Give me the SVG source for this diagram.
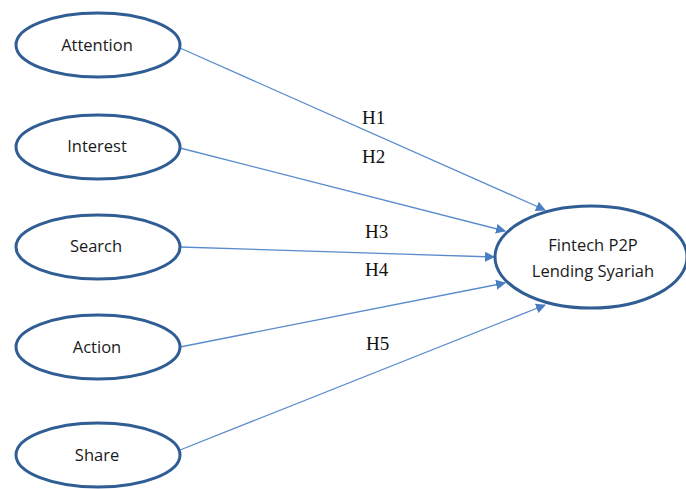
<svg xmlns="http://www.w3.org/2000/svg" width="686" height="489" viewBox="0 0 686 489">
<defs>
<style>
.node ellipse{fill:#fff;stroke:#2f5d94;stroke-width:3}
.node text{font-family:"Open Sans","Liberation Sans",sans-serif;font-size:16.5px;fill:#1a1a1a;text-anchor:middle}
.conn line{stroke:#5a8ccc;stroke-width:1.3}
.lbl{font-family:"Liberation Serif",serif;font-size:19px;fill:#111}
</style>
<marker id="ah" viewBox="0 0 10 10" refX="9" refY="5" markerWidth="10" markerHeight="10" markerUnits="userSpaceOnUse" orient="auto"><path d="M0,0 L10,5 L0,10 z" fill="#4a7ec2"/></marker>
</defs>
<rect width="686" height="489" fill="#fff"/>
<g id="connectors" class="conn">
<line x1="180" y1="48" x2="545" y2="210" marker-end="url(#ah)"/>
<line x1="180" y1="148" x2="505" y2="231" marker-end="url(#ah)"/>
<line x1="180" y1="247" x2="494" y2="257" marker-end="url(#ah)"/>
<line x1="180" y1="347" x2="505" y2="283" marker-end="url(#ah)"/>
<line x1="180" y1="450" x2="545" y2="305" marker-end="url(#ah)"/>
</g>
<g id="labels">
<text class="lbl" x="362" y="124">H1</text>
<text class="lbl" x="362" y="163">H2</text>
<text class="lbl" x="365" y="238">H3</text>
<text class="lbl" x="365" y="276">H4</text>
<text class="lbl" x="366" y="350">H5</text>
</g>
<g id="attention" class="node"><ellipse cx="98" cy="45" rx="82" ry="32"/><text x="97" y="51">Attention</text></g>
<g id="interest" class="node"><ellipse cx="98" cy="147" rx="82" ry="32"/><text x="97" y="152">Interest</text></g>
<g id="search" class="node"><ellipse cx="98" cy="247" rx="82" ry="32"/><text x="96" y="252">Search</text></g>
<g id="action" class="node"><ellipse cx="98" cy="347" rx="82" ry="32"/><text x="97" y="353">Action</text></g>
<g id="share" class="node"><ellipse cx="98" cy="455" rx="82" ry="32"/><text x="97" y="461">Share</text></g>
<g id="fintech" class="node"><ellipse cx="591" cy="257" rx="96" ry="51"/><text x="593" y="251">Fintech P2P</text><text x="593" y="277">Lending Syariah</text></g>
</svg>
